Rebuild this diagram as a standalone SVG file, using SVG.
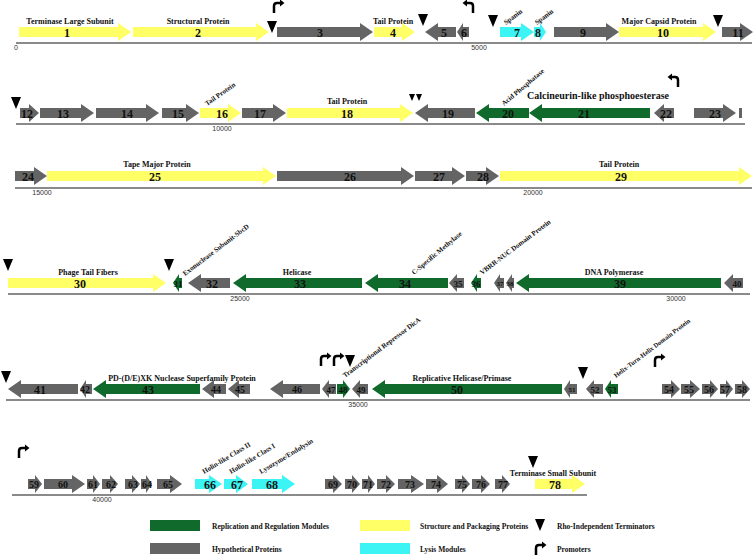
<svg xmlns="http://www.w3.org/2000/svg" xmlns:xlink="http://www.w3.org/1999/xlink" width="756" height="560" viewBox="0 0 756 560">
<style>
.y{fill:#ffff66}.g{fill:#646464}.gr{fill:#0f6a2c}.c{fill:#3cf4f4}
.n{font:bold 12px "Liberation Serif",serif;text-anchor:middle;fill:#111}
.ns{font-size:9px}.nm{font-size:10px}
.lb{font:bold 8px "Liberation Serif",serif;text-anchor:middle;fill:#111}
.rl{font:bold 7px "Liberation Serif",serif;fill:#111}
.ax{stroke:#8a8a8a;stroke-width:2;fill:none}
.tk{font:7px "Liberation Sans",sans-serif;fill:#333;text-anchor:middle}
.lg{font:bold 7.5px "Liberation Serif",serif;fill:#111}
.pr{stroke:#000;stroke-width:2.5;fill:none}
</style>
<defs>
<polygon id="term" points="-5,0 5,0 0,12" fill="#000"/>
<g id="prom"><path class="pr" d="M0,10 V3 Q0,0 3,0 H7"/><polygon points="6,-3.5 10.5,0 6,3.5" fill="#000"/></g>
</defs>
<rect width="756" height="560" fill="#fff"/>
<g id="axes">
<path class="ax" d="M16,43H752M16,124H745M15,188H752M8,294H750M6,400H750M12,495H587"/>
<text class="tk" x="16" y="50">0</text><text class="tk" x="479" y="50">5000</text>
<text class="tk" x="222" y="131">10000</text>
<text class="tk" x="42" y="195">15000</text><text class="tk" x="533" y="195">20000</text>
<text class="tk" x="240" y="301">25000</text><text class="tk" x="676" y="301">30000</text>
<text class="tk" x="358" y="407">35000</text>
<text class="tk" x="102" y="502">40000</text>
</g>
<g id="markers">
<use href="#term" x="272" y="21"/><use href="#term" x="423" y="14"/><use href="#term" x="493" y="15"/><use href="#term" x="718" y="15"/>
<use href="#term" x="16" y="97"/>
<polygon points="409,94 415,94 412,101" fill="#000"/><polygon points="416,94 422,94 419,101" fill="#000"/>
<use href="#term" x="8" y="259"/><use href="#term" x="169" y="259"/>
<use href="#term" x="6" y="371"/><use href="#term" x="350" y="355"/><use href="#term" x="583" y="367"/>
<use href="#term" x="533" y="456"/>
<use href="#prom" transform="translate(274,3)"/>
<use href="#prom" transform="translate(473,3) scale(-1,1)"/>
<use href="#prom" transform="translate(678,77) scale(-1,1)"/>
<use href="#prom" transform="translate(321,356)"/>
<use href="#prom" transform="translate(334,356)"/>
<use href="#prom" transform="translate(655,357)"/>
<use href="#prom" transform="translate(19,448)"/>
</g>
<g id="labels">
<text class="lb" x="70" y="24">Terminase Large Subunit</text>
<text class="lb" x="198" y="24">Structural Protein</text>
<text class="lb" x="393" y="24">Tail Protein</text>
<text class="lb" x="659" y="24">Major Capsid Protein</text>
<text class="rl" transform="translate(506,25) rotate(-37)">Spanin</text>
<text class="rl" transform="translate(537,25) rotate(-37)">Spanin</text>
<text class="rl" transform="translate(207,106) rotate(-35)">Tail Protein</text>
<text class="lb" x="347" y="104">Tail Protein</text>
<text class="rl" transform="translate(504,106) rotate(-40)">Acid Phosphatase</text>
<text class="lb" x="598" y="99" style="font-size:10px">Calcineurin-like phosphoesterase</text>
<text class="lb" x="157" y="167">Tape Major Protein</text>
<text class="lb" x="619" y="167">Tail Protein</text>
<text class="lb" x="88" y="275">Phage Tail Fibers</text>
<text class="rl" transform="translate(185,276) rotate(-37)">Exonuclease Subunit-SbcD</text>
<text class="lb" x="297" y="275">Helicase</text>
<text class="rl" transform="translate(414,275) rotate(-40)">C-Specific Methylase</text>
<text class="rl" transform="translate(482,275) rotate(-37)">VBRR-NUC Domain Protein</text>
<text class="lb" x="614" y="275">DNA Polymerase</text>
<text class="lb" x="182" y="381">PD-(D/E)XK Nuclease Superfamily Protein</text>
<text class="rl" transform="translate(345,378) rotate(-37)">Transcriptional Repressor DicA</text>
<text class="lb" x="462" y="381">Replicative Helicase/Primase</text>
<text class="rl" style="font-size:6.5px" transform="translate(616,378) rotate(-37)">Helix-Turn-Helix Domain Protein</text>
<text class="rl" transform="translate(204,474) rotate(-31)">Holin-like Class II</text>
<text class="rl" transform="translate(231,474) rotate(-31)">Holin-like Class I</text>
<text class="rl" transform="translate(261,474) rotate(-31)">Lysozyme/Endolysin</text>
<text class="lb" x="553" y="476">Terminase Small Subunit</text>
</g>
<g id="g1"><polygon class="y" points="19,27 118,27 118,23 131,32 118,41 118,37 19,37"/><text class="n" x="67" y="36.5">1</text></g>
<g id="g2"><polygon class="y" points="133,27 256,27 256,23 269,32 256,41 256,37 133,37"/><text class="n" x="198" y="36.5">2</text></g>
<g id="g3"><polygon class="g" points="277,27 360,27 360,23 373,32 360,41 360,37 277,37"/><text class="n" x="320" y="36.5">3</text></g>
<g id="g4"><polygon class="y" points="374,27 402,27 402,23 415,32 402,41 402,37 374,37"/><text class="n" x="393" y="36.5">4</text></g>
<g id="g5"><polygon class="g" points="456,27 438,27 438,23 425,32 438,41 438,37 456,37"/><text class="n" x="444" y="36.5">5</text></g>
<g id="g6"><polygon class="g" points="469,27 463,27 463,23 457,32 463,41 463,37 469,37"/><text class="n" x="464" y="36.5">6</text></g>
<g id="g7"><polygon class="c" points="500,27 521,27 521,23 534,32 521,41 521,37 500,37"/><text class="n" x="517" y="36.5">7</text></g>
<g id="g8"><polygon class="c" points="534,27 540,27 540,23 546,32 540,41 540,37 534,37"/><text class="n" x="538" y="36.5">8</text></g>
<g id="g9"><polygon class="g" points="554,27 606,27 606,23 619,32 606,41 606,37 554,37"/><text class="n" x="583" y="36.5">9</text></g>
<g id="g10"><polygon class="y" points="619,27 703,27 703,23 716,32 703,41 703,37 619,37"/><text class="n" x="663" y="36.5">10</text></g>
<g id="g11"><polygon class="g" points="722,27 740,27 740,23 753,32 740,41 740,37 722,37"/><text class="n" x="738" y="36.5">11</text></g>
<g id="g12"><polygon class="g" points="20,108 29,108 29,104 39,113 29,122 29,118 20,118"/><text class="n" x="27" y="117.5">12</text></g>
<g id="g13"><polygon class="g" points="40,108 81,108 81,104 94,113 81,122 81,118 40,118"/><text class="n" x="63" y="117.5">13</text></g>
<g id="g14"><polygon class="g" points="96,108 146,108 146,104 159,113 146,122 146,118 96,118"/><text class="n" x="127" y="117.5">14</text></g>
<g id="g15"><polygon class="g" points="162,108 186,108 186,104 199,113 186,122 186,118 162,118"/><text class="n" x="178" y="117.5">15</text></g>
<g id="g16"><polygon class="y" points="200,108 228,108 228,104 241,113 228,122 228,118 200,118"/><text class="n" x="222" y="117.5">16</text></g>
<g id="g17"><polygon class="g" points="242,108 273,108 273,104 286,113 273,122 273,118 242,118"/><text class="n" x="260" y="117.5">17</text></g>
<g id="g18"><polygon class="y" points="287,108 400,108 400,104 413,113 400,122 400,118 287,118"/><text class="n" x="347" y="117.5">18</text></g>
<g id="g19"><polygon class="g" points="475,108 428,108 428,104 415,113 428,122 428,118 475,118"/><text class="n" x="448" y="117.5">19</text></g>
<g id="g20"><polygon class="gr" points="529,108 489,108 489,104 476,113 489,122 489,118 529,118"/><text class="n" x="508" y="117.5">20</text></g>
<g id="g21"><polygon class="gr" points="650,108 542,108 542,104 529,113 542,122 542,118 650,118"/><text class="n" x="584" y="117.5">21</text></g>
<g id="g22"><polygon class="g" points="674,108 664,108 664,104 654,113 664,122 664,118 674,118"/><text class="n" x="666" y="117.5">22</text></g>
<g id="g23"><polygon class="g" points="694,108 723,108 723,104 736,113 723,122 723,118 694,118"/><text class="n" x="715" y="117.5">23</text><rect class="g" x="739" y="108" width="3" height="10"/></g>
<g id="g24"><polygon class="g" points="15,171 34,171 34,167 47,176 34,185 34,181 15,181"/><text class="n" x="28" y="180.5">24</text></g>
<g id="g25"><polygon class="y" points="47,171 263,171 263,167 276,176 263,185 263,181 47,181"/><text class="n" x="155" y="180.5">25</text></g>
<g id="g26"><polygon class="g" points="277,171 401,171 401,167 414,176 401,185 401,181 277,181"/><text class="n" x="350" y="180.5">26</text></g>
<g id="g27"><polygon class="g" points="415,171 452,171 452,167 465,176 452,185 452,181 415,181"/><text class="n" x="439" y="180.5">27</text></g>
<g id="g28"><polygon class="g" points="466,171 486,171 486,167 499,176 486,185 486,181 466,181"/><text class="n" x="483" y="180.5">28</text></g>
<g id="g29"><polygon class="y" points="500,171 739,171 739,167 752,176 739,185 739,181 500,181"/><text class="n" x="621" y="180.5">29</text></g>
<g id="g30"><polygon class="y" points="8,278 153,278 153,274 166,283 153,292 153,288 8,288"/><text class="n" x="80" y="287.5">30</text></g>
<g id="g31"><polygon class="gr" points="182,278 179,278 179,274 173,283 179,292 179,288 182,288"/><text class="n ns" x="178" y="286.5">31</text></g>
<g id="g32"><polygon class="g" points="230,278 201,278 201,274 188,283 201,292 201,288 230,288"/><text class="n" x="212" y="287.5">32</text></g>
<g id="g33"><polygon class="gr" points="362,278 246,278 246,274 233,283 246,292 246,288 362,288"/><text class="n" x="300" y="287.5">33</text></g>
<g id="g34"><polygon class="gr" points="448,278 378,278 378,274 365,283 378,292 378,288 448,288"/><text class="n" x="405" y="287.5">34</text></g>
<g id="g35"><polygon class="g" points="464,278 457,278 457,274 449,283 457,292 457,288 464,288"/><text class="n ns" x="458" y="286.5">35</text></g>
<g id="g36"><polygon class="gr" points="481,278 477,278 477,274 471,283 477,292 477,288 481,288"/><text class="n ns" x="476" y="286.5">36</text></g>
<g id="g37"><polygon class="g" points="504,278 500,278 500,274 494,283 500,292 500,288 504,288"/><text class="n" style="font-size:7px" x="500" y="285.5">37</text></g>
<g id="g38"><polygon class="g" points="514,278 512,278 512,274 506,283 512,292 512,288 514,288"/><text class="n" style="font-size:7px" x="510" y="285.5">38</text></g>
<g id="g39"><polygon class="gr" points="721,278 529,278 529,274 516,283 529,292 529,288 721,288"/><text class="n" x="620" y="287.5">39</text></g>
<g id="g40"><polygon class="g" points="743,278 733,278 733,274 724,283 733,292 733,288 743,288"/><text class="n ns" x="737" y="286.5">40</text></g>
<g id="g41"><polygon class="g" points="78,384 21,384 21,380 8,389 21,398 21,394 78,394"/><text class="n" x="40" y="393.5">41</text></g>
<g id="g42"><polygon class="g" points="92,384 86,384 86,380 80,389 86,398 86,394 92,394"/><text class="n nm" x="85" y="392.5">42</text></g>
<g id="g43"><polygon class="gr" points="200,384 106,384 106,380 93,389 106,398 106,394 200,394"/><text class="n" x="148" y="393.5">43</text></g>
<g id="g44"><polygon class="g" points="226,384 214,384 214,380 202,389 214,398 214,394 226,394"/><text class="n nm" x="216" y="392.5">44</text></g>
<g id="g45"><polygon class="g" points="250,384 239,384 239,380 228,389 239,398 239,394 250,394"/><text class="n nm" x="240" y="392.5">45</text></g>
<g id="g46"><polygon class="g" points="320,384 283,384 283,380 270,389 283,398 283,394 320,394"/><text class="n nm" x="297" y="392.5">46</text></g>
<g id="g47"><polygon class="g" points="336,384 329,384 329,380 322,389 329,398 329,394 336,394"/><text class="n ns" x="331" y="392.5">47</text></g>
<g id="g48"><polygon class="gr" points="337,384 343,384 343,380 350,389 343,398 343,394 337,394"/><text class="n ns" x="343" y="392.5">48</text></g>
<g id="g49"><polygon class="g" points="368,384 360,384 360,380 352,389 360,398 360,394 368,394"/><text class="n ns" x="361" y="392.5">49</text></g>
<g id="g50"><polygon class="gr" points="562,384 385,384 385,380 372,389 385,398 385,394 562,394"/><text class="n" x="457" y="393.5">50</text></g>
<g id="g51"><polygon class="g" points="577,384 570,384 570,380 564,389 570,398 570,394 577,394"/><text class="n" style="font-size:7px" x="572" y="391.5">51</text></g>
<g id="g52"><polygon class="g" points="603,384 594,384 594,380 586,389 594,398 594,394 603,394"/><text class="n ns" x="595" y="392.5">52</text></g>
<g id="g53"><polygon class="gr" points="618,384 611,384 611,380 605,389 611,398 611,394 618,394"/><text class="n ns" x="612" y="392.5">53</text></g>
<g id="g54"><polygon class="g" points="662,384 671,384 671,380 680,389 671,398 671,394 662,394"/><text class="n nm" x="669" y="392.5">54</text></g>
<g id="g55"><polygon class="g" points="681,384 690,384 690,380 700,389 690,398 690,394 681,394"/><text class="n nm" x="689" y="392.5">55</text></g>
<g id="g56"><polygon class="g" points="702,384 710,384 710,380 718,389 710,398 710,394 702,394"/><text class="n nm" x="709" y="392.5">56</text></g>
<g id="g57"><polygon class="g" points="720,384 726,384 726,380 733,389 726,398 726,394 720,394"/><text class="n nm" x="725" y="392.5">57</text></g>
<g id="g58"><polygon class="g" points="735,384 742,384 742,380 750,389 742,398 742,394 735,394"/><text class="n nm" x="742" y="392.5">58</text></g>
<g id="g59"><polygon class="g" points="28,479 35,479 35,475 42,484 35,493 35,489 28,489"/><text class="n nm" x="34" y="487.5">59</text></g>
<g id="g60"><polygon class="g" points="44,479 72,479 72,475 85,484 72,493 72,489 44,489"/><text class="n nm" x="63" y="487.5">60</text></g>
<g id="g61"><polygon class="g" points="87,479 93,479 93,475 100,484 93,493 93,489 87,489"/><text class="n nm" x="93" y="487.5">61</text></g>
<g id="g62"><polygon class="g" points="102,479 110,479 110,475 118,484 110,493 110,489 102,489"/><text class="n nm" x="111" y="487.5">62</text></g>
<g id="g63"><polygon class="g" points="125,479 132,479 132,475 140,484 132,493 132,489 125,489"/><text class="n nm" x="133" y="487.5">63</text></g>
<g id="g64"><polygon class="g" points="141,479 146,479 146,475 152,484 146,493 146,489 141,489"/><text class="n nm" x="147" y="487.5">64</text></g>
<g id="g65"><polygon class="g" points="157,479 170,479 170,475 182,484 170,493 170,489 157,489"/><text class="n nm" x="168" y="487.5">65</text></g>
<g id="g66"><polygon class="c" points="195,479 209,479 209,475 222,484 209,493 209,489 195,489"/><text class="n" x="210" y="488.5">66</text></g>
<g id="g67"><polygon class="c" points="224,479 236,479 236,475 248,484 236,493 236,489 224,489"/><text class="n" x="237" y="488.5">67</text></g>
<g id="g68"><polygon class="c" points="252,479 282,479 282,475 295,484 282,493 282,489 252,489"/><text class="n" x="272" y="488.5">68</text></g>
<g id="g69"><polygon class="g" points="325,479 333,479 333,475 342,484 333,493 333,489 325,489"/><text class="n nm" x="333" y="487.5">69</text></g>
<g id="g70"><polygon class="g" points="345,479 352,479 352,475 360,484 352,493 352,489 345,489"/><text class="n nm" x="352" y="487.5">70</text></g>
<g id="g71"><polygon class="g" points="362,479 368,479 368,475 375,484 368,493 368,489 362,489"/><text class="n nm" x="368" y="487.5">71</text></g>
<g id="g72"><polygon class="g" points="377,479 386,479 386,475 395,484 386,493 386,489 377,489"/><text class="n nm" x="386" y="487.5">72</text></g>
<g id="g73"><polygon class="g" points="398,479 411,479 411,475 424,484 411,493 411,489 398,489"/><text class="n nm" x="410" y="487.5">73</text></g>
<g id="g74"><polygon class="g" points="426,479 437,479 437,475 448,484 437,493 437,489 426,489"/><text class="n nm" x="436" y="487.5">74</text></g>
<g id="g75"><polygon class="g" points="455,479 462,479 462,475 470,484 462,493 462,489 455,489"/><text class="n nm" x="462" y="487.5">75</text></g>
<g id="g76"><polygon class="g" points="472,479 481,479 481,475 490,484 481,493 481,489 472,489"/><text class="n nm" x="481" y="487.5">76</text></g>
<g id="g77"><polygon class="g" points="495,479 502,479 502,475 510,484 502,493 502,489 495,489"/><text class="n nm" x="503" y="487.5">77</text></g>
<g id="g78"><polygon class="y" points="535,479 572,479 572,475 585,484 572,493 572,489 535,489"/><text class="n" x="555" y="488.5">78</text></g>
<g id="legend">
<rect x="150" y="520" width="50" height="11" class="gr"/><text class="lg" x="212" y="529">Replication and Regulation Modules</text>
<rect x="360" y="520" width="50" height="11" class="y"/><text class="lg" x="420" y="529">Structure and Packaging Proteins</text>
<use href="#term" x="540" y="519"/><text class="lg" x="557" y="529">Rho-Independent Terminators</text>
<rect x="150" y="543" width="50" height="11" class="g"/><text class="lg" x="212" y="552">Hypothetical Proteins</text>
<rect x="360" y="543" width="50" height="11" class="c"/><text class="lg" x="420" y="552">Lysis Modules</text>
<use href="#prom" transform="translate(536,545)"/><text class="lg" x="557" y="552">Promoters</text>
</g>
</svg>
